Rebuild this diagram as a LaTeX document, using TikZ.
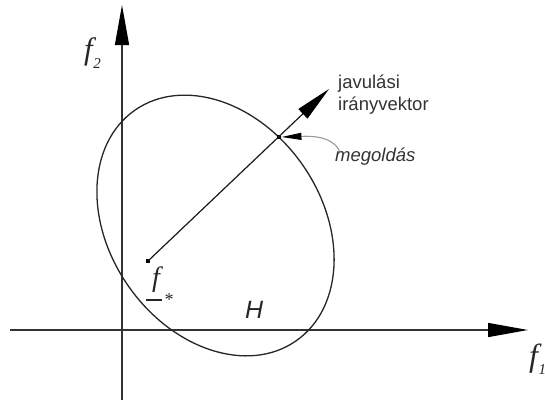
\documentclass[tikz,border=0pt]{standalone}
\usepackage{fontspec}
\setmainfont{Liberation Sans}
\newfontfamily\tms{Liberation Serif}
\usetikzlibrary{arrows.meta}
\begin{document}
\begin{tikzpicture}[x=1pt,y=-1pt,
  axis/.style={draw=black!80, line width=1.4pt, -{Triangle[length=40pt,width=14pt,black]}},
  ell/.style={draw=black!85, line width=1.3pt},
  vec/.style={draw=black!90, line width=1.2pt, -{Triangle[length=36pt,width=13pt,black]}},
  pointer/.style={draw=black!40, line width=1.1pt, -{Triangle[length=20pt,width=7pt,black]}},
  dotnode/.style={rectangle, fill=black, draw=none, minimum size=4.5pt, inner sep=0pt},
  lbl/.style={inner sep=0pt, anchor=base west, text=black!80, font=\fontsize{18.5}{22}\selectfont},
  flbl/.style={inner sep=0pt, anchor=base west, text=black!85, font=\tms\itshape\fontsize{31}{31}\selectfont}]
\useasboundingbox (0,0) rectangle (545,402);
% axes
\coordinate (xs) at (10,330);
\coordinate (xe) at (528,330);
\coordinate (ys) at (122,400);
\coordinate (ye) at (122,5);
\draw[axis] (xs) -- (xe);
\draw[axis] (ys) -- (ye);
% feasible set H
\draw[ell, rotate around={-55:(215.5,225.5)}] (215.5,225.5) ellipse [x radius=140.7pt, y radius=106.1pt];
% points
\node[dotnode] (fs) at (148,261) {};
\node[dotnode] (sol) at (279,137) {};
\coordinate (vt) at (329,89);
\draw[vec] (fs.center) -- (vt);
% pointer to solution
\coordinate (mgs) at (340,152);
\draw[pointer] (mgs) .. controls (333,136) and (312,136) .. (sol.east);
% labels
\node[lbl] (jav) at (338,88) {javulási};
\node[lbl] (irv) at (338,110) {irányvektor};
\node[lbl, font=\fontsize{18.5}{22}\selectfont\itshape] (meg) at (335,161) {megoldás};
\node[inner sep=0pt, anchor=base west, text=black!85, font=\fontsize{25}{25}\selectfont\itshape] (H) at (245,318) {H};
\node[flbl] (f2) at (84,59) {f\kern0.5pt\raisebox{-9pt}{\fontsize{15}{15}\selectfont 2}};
\node[flbl, font=\tms\itshape\fontsize{28}{28}\selectfont] (fst) at (152,286) {f\kern4pt\raisebox{-19pt}{\fontsize{18}{18}\selectfont *}};
\draw[line width=1.5pt, black!85] (146,300) -- (162,300);
\node[flbl, font=\tms\itshape\fontsize{32}{32}\selectfont] (f1) at (529,366) {f\kern0.5pt\raisebox{-8pt}{\fontsize{15}{15}\selectfont 1}};
\end{tikzpicture}
\end{document}
